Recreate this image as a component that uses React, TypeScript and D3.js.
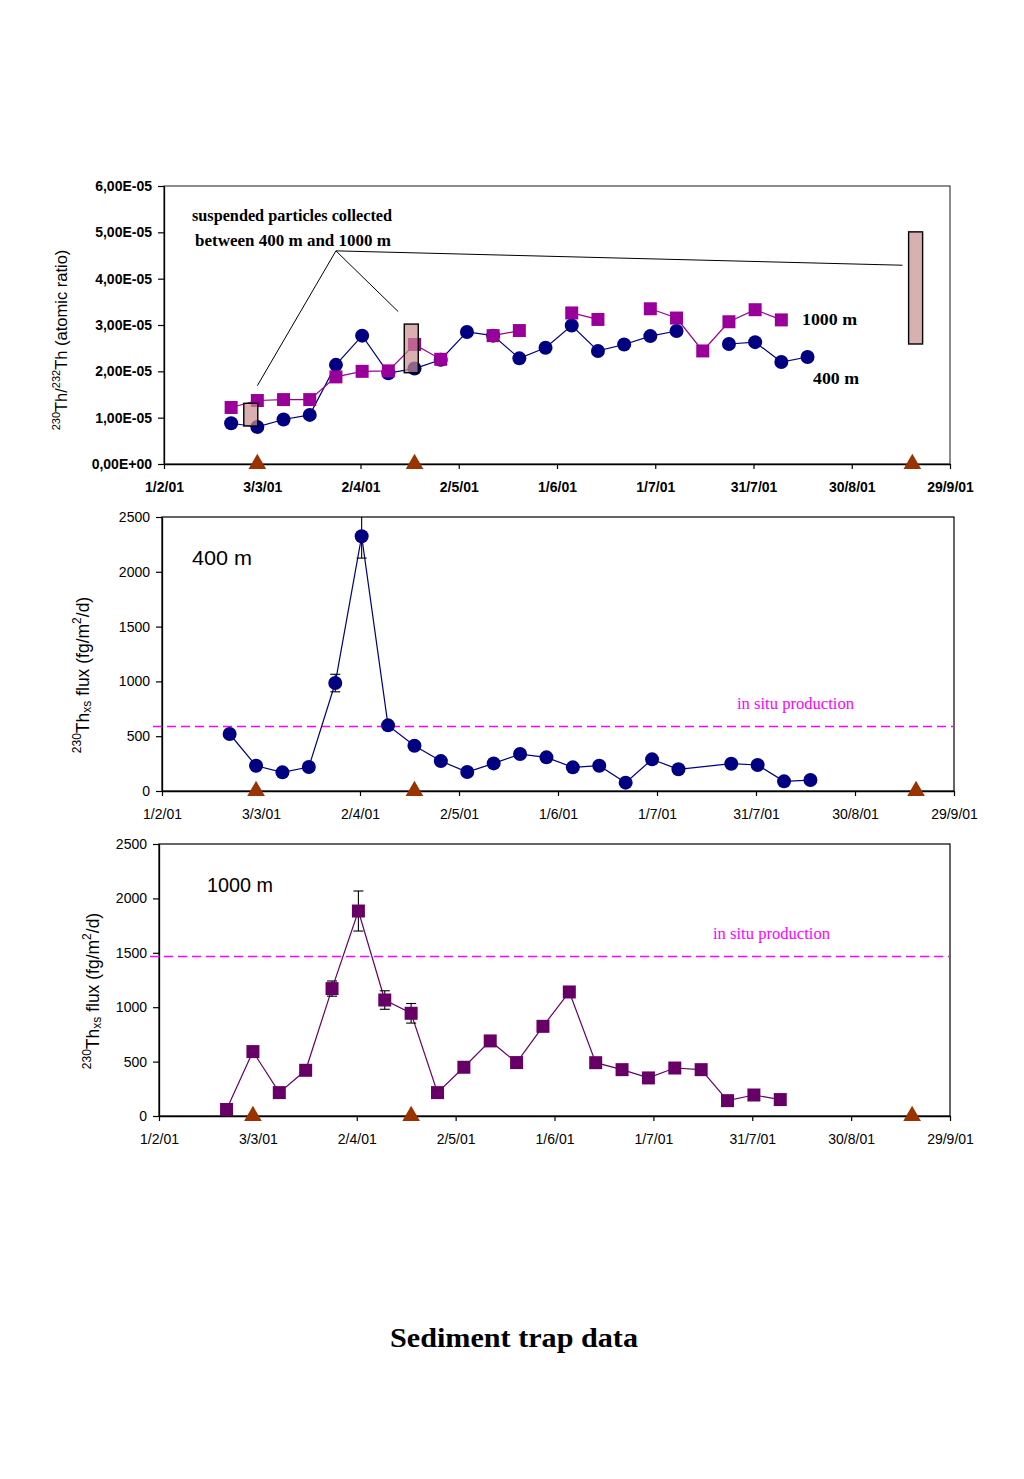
import React, { useEffect, useRef } from 'react';
import * as d3 from 'd3';

// centre date of each 8-day trap cup
const sampleDates = [
    '2001-02-21', '2001-03-01', '2001-03-09', '2001-03-17', '2001-03-25', '2001-04-02',
    '2001-04-10', '2001-04-18', '2001-04-26', '2001-05-04', '2001-05-12', '2001-05-20',
    '2001-05-28', '2001-06-05', '2001-06-13', '2001-06-21', '2001-06-29', '2001-07-07',
    '2001-07-15', '2001-07-23', '2001-07-31', '2001-08-08', '2001-08-16'
];

// 230Th/232Th atomic ratio, in units of 1e-5
const ratio400 = [0.88, 0.80, 0.96, 1.06, 2.14, 2.77, 1.96, 2.06, 2.25, 2.85, 2.77, 2.28,
    2.51, 2.99, 2.44, 2.58, 2.76, 2.87, null, 2.59, 2.63, 2.20, 2.31];
const ratio1000 = [1.22, 1.37, 1.39, 1.39, 1.88, 2.00, 2.01, 2.58, 2.26, null, 2.77, 2.88,
    null, 3.26, 3.12, null, 3.35, 3.15, 2.44, 3.07, 3.33, 3.11, null];

// 230Th xs flux (fg/m2/d)
const flux400 = [520, 230, 170, 219, 985, 2325, 599, 413, 273, 173, 252, 337,
    307, 216, 231, 76, 289, 198, null, 249, 237, 88, 100];
const flux400Err = [0, 0, 0, 0, 80, 200, 0, 0, 0, 0, 0, 0,
    0, 0, 0, 0, 0, 0, 0, 0, 0, 0, 0];
const flux1000 = [60, 592, 215, 420, 1171, 1884, 1066, 944, 215, 448, 690, 491,
    824, 1140, 490, 426, 350, 441, 426, 141, 193, 151, null];
const flux1000Err = [0, 0, 0, 0, 70, 184, 85, 90, 0, 0, 0, 0,
    0, 0, 0, 0, 0, 0, 0, 0, 0, 0, 0];

const production400 = 590;
const production1000 = 1475;

// CTD / pump casts (triangles) and suspended particle ranges (boxes)
const castDates = ['2001-03-01', '2001-04-18', '2001-09-17'];
const particleDates = ['2001-02-27', '2001-04-17', '2001-09-18'];
const particleLow = [0.82, 1.97, 2.59];
const particleHigh = [1.31, 3.02, 5.01];

const dateTicks = ['2001-02-01', '2001-03-03', '2001-04-02', '2001-05-02', '2001-06-01',
    '2001-07-01', '2001-07-31', '2001-08-30', '2001-09-29'];
const dateTickLabels = ['1/2/01', '3/3/01', '2/4/01', '2/5/01', '1/6/01', '1/7/01',
    '31/7/01', '30/8/01', '29/9/01'];
const ratioTicks = [0, 1, 2, 3, 4, 5, 6];
const ratioTickLabels = ['0,00E+00', '1,00E-05', '2,00E-05', '3,00E-05', '4,00E-05',
    '5,00E-05', '6,00E-05'];
const fluxTicks = [0, 500, 1000, 1500, 2000, 2500];

const SANS = '"Liberation Sans", Arial, sans-serif';
const SERIF = '"Liberation Serif", "Times New Roman", serif';
const NAVY = '#000080';
const PURPLE = '#990099';
const DARK_PURPLE = '#660066';
const BROWN = '#993300';

const parseDay = d3.timeParse('%Y-%m-%d');
const noon = (s: string) => d3.timeHour.offset(parseDay(s) as Date, 12);
const day = (s: string) => parseDay(s) as Date;

type Box = { x0: number; x1: number; y0: number; y1: number };

function drawAxes(svg: any, x: any, y: any, box: Box, yTicks: number[], yLabels: (v: number, i: number) => string, bold: boolean, fs: number, frameColor: string) {
    svg.append('rect')
        .attr('x', box.x0).attr('y', box.y0)
        .attr('width', box.x1 - box.x0).attr('height', box.y1 - box.y0)
        .attr('fill', 'none').attr('stroke', frameColor).attr('stroke-width', 1.2);

    const xa = svg.append('g')
        .attr('transform', `translate(0,${box.y1})`)
        .call(d3.axisBottom(x)
            .tickValues(dateTicks.map(day))
            .tickFormat((_: any, i: number) => dateTickLabels[i])
            .tickSize(5).tickSizeOuter(0).tickPadding(13));
    const ya = svg.append('g')
        .attr('transform', `translate(${box.x0},0)`)
        .call(d3.axisLeft(y)
            .tickValues(yTicks)
            .tickFormat((v: any, i: number) => yLabels(v, i))
            .tickSize(6).tickSizeOuter(0).tickPadding(6));
    [xa, ya].forEach(a => {
        a.select('.domain').attr('stroke', '#000').attr('stroke-width', 1.3);
        a.selectAll('.tick line').attr('stroke', '#000').attr('stroke-width', 1.2);
        a.selectAll('text')
            .attr('fill', '#000')
            .style('font-family', SANS)
            .style('font-size', fs + 'px')
            .style('font-weight', bold ? 'bold' : 'normal');
    });
}

function drawCasts(svg: any, x: any, yAxis: number) {
    svg.append('g').selectAll('path')
        .data(castDates)
        .join('path')
        .attr('transform', (d: string) => `translate(${x(noon(d))},${yAxis})`)
        .attr('d', d3.symbol(d3.symbolTriangle, 135)())
        .attr('fill', BROWN);
}

function yTitle(svg: any, cx: number, cy: number, fs: number, parts: [string, string][]) {
    const t = svg.append('text')
        .attr('transform', `translate(${cx},${cy}) rotate(-90)`)
        .attr('text-anchor', 'middle')
        .style('font-family', SANS)
        .style('font-size', fs + 'px')
        .attr('fill', '#000');
    let shift = 0;
    parts.forEach(([txt, kind]) => {
        const target = kind === 'sup' ? -0.45 * fs : kind === 'sub' ? 0.1 * fs : 0;
        t.append('tspan')
            .attr('dy', target - shift)
            .style('font-size', kind === 'n' ? fs + 'px' : Math.round(fs * 0.66) + 'px')
            .text(txt);
        shift = target;
    });
}

function fixedText(svg: any, x: number, y: number, txt: string, len: number, font: string, fs: number, weight: string, color: string) {
    svg.append('text')
        .attr('x', x).attr('y', y)
        .attr('textLength', len).attr('lengthAdjust', 'spacingAndGlyphs')
        .style('font-family', font).style('font-size', fs + 'px').style('font-weight', weight)
        .attr('fill', color)
        .text(txt);
}

export default function App() {
    const svgRef = useRef<SVGSVGElement>(null);

    useEffect(() => {
        const svg = d3.select(svgRef.current);
        svg.selectAll('*').remove();

        const xDomain = [day('2001-02-01'), day('2001-09-29')];
        const dates = sampleDates.map(noon);

        // ---------- top panel: Th ratio ----------
        const b1: Box = { x0: 164, x1: 950, y0: 186, y1: 464 };
        const x1 = d3.scaleTime().domain(xDomain).range([b1.x0, b1.x1]);
        const y1 = d3.scaleLinear().domain([0, 6]).range([b1.y1, b1.y0]);
        drawAxes(svg, x1, y1, b1, ratioTicks, (_v, i) => ratioTickLabels[i], true, 14, '#404040');

        const ratioLine = d3.line<number | null>()
            .defined(d => d != null)
            .x((_, i) => x1(dates[i]))
            .y(d => y1(d as number));

        svg.append('path').attr('d', ratioLine(ratio400))
            .attr('fill', 'none').attr('stroke', NAVY).attr('stroke-width', 1.2);
        svg.append('path').attr('d', ratioLine(ratio1000))
            .attr('fill', 'none').attr('stroke', PURPLE).attr('stroke-width', 1.2);

        svg.append('g').selectAll('circle')
            .data(ratio400.map((v, i) => ({ v, d: dates[i] })).filter(p => p.v != null))
            .join('circle')
            .attr('cx', p => x1(p.d)).attr('cy', p => y1(p.v as number))
            .attr('r', 7).attr('fill', NAVY);
        svg.append('g').selectAll('rect')
            .data(ratio1000.map((v, i) => ({ v, d: dates[i] })).filter(p => p.v != null))
            .join('rect')
            .attr('x', p => x1(p.d) - 6.5).attr('y', p => y1(p.v as number) - 6.5)
            .attr('width', 13).attr('height', 13).attr('fill', PURPLE);

        // suspended particle boxes
        svg.append('g').selectAll('rect')
            .data(particleDates.map((d, i) => ({ d: noon(d), lo: particleLow[i], hi: particleHigh[i] })))
            .join('rect')
            .attr('x', p => x1(p.d) - 7).attr('width', 14)
            .attr('y', p => y1(p.hi)).attr('height', p => y1(p.lo) - y1(p.hi))
            .attr('fill', '#c98f8f').attr('fill-opacity', 0.7)
            .attr('stroke', '#000').attr('stroke-width', 1.4);

        // leader lines from the annotation to the boxes
        const origin: [number, number] = [x1(noon('2001-03-25')), y1(4.6)];
        const ends: [string, number][] = [['2001-03-01', 1.69], ['2001-04-13', 3.29], ['2001-09-14', 4.29]];
        ends.forEach(([d, v]) => {
            svg.append('line')
                .attr('x1', origin[0]).attr('y1', origin[1])
                .attr('x2', x1(noon(d))).attr('y2', y1(v))
                .attr('stroke', '#000').attr('stroke-width', 1);
        });
        fixedText(svg, 192, 221, 'suspended particles collected', 200, SERIF, 16, 'bold', '#000');
        fixedText(svg, 195, 246, 'between 400 m and 1000 m', 196, SERIF, 16, 'bold', '#000');
        fixedText(svg, 802, 325, '1000 m', 55, SERIF, 16, 'bold', '#000');
        fixedText(svg, 813, 384, '400 m', 46, SERIF, 16, 'bold', '#000');

        drawCasts(svg, x1, b1.y1);
        yTitle(svg, 67, 340, 16.5, [['230', 'sup'], ['Th/', 'n'], ['232', 'sup'], ['Th (atomic ratio)', 'n']]);

        // ---------- flux panels ----------
        const fluxPanel = (b: Box, values: (number | null)[], errs: number[], prod: number,
            color: string, marker: 'circle' | 'square', label: string, labelX: number, labelLen: number,
            prodX: number, titleX: number, titleY: number) => {
            const x = d3.scaleTime().domain(xDomain).range([b.x0, b.x1]);
            const y = d3.scaleLinear().domain([0, 2500]).range([b.y1, b.y0]);
            drawAxes(svg, x, y, b, fluxTicks, v => String(v), false, 14, '#000');

            // in situ production
            const yp = Math.round(y(prod)) + 0.5;
            svg.append('line')
                .attr('x1', b.x0 - 9).attr('x2', b.x1)
                .attr('y1', yp).attr('y2', yp)
                .attr('stroke', '#ff00ff').attr('stroke-width', 1.4)
                .attr('stroke-dasharray', '9,5');
            fixedText(svg, prodX, yp - 17.5, 'in situ production', 117, SERIF, 16, 'normal', '#ff00ff');

            const pts = values.map((v, i) => ({ v, e: errs[i], d: dates[i] })).filter(p => p.v != null);
            const line = d3.line<any>().x(p => x(p.d)).y(p => y(p.v));
            svg.append('path').attr('d', line(pts))
                .attr('fill', 'none').attr('stroke', color).attr('stroke-width', 1.2);

            // error bars
            const eb = svg.append('g').attr('stroke', '#000').attr('stroke-width', 1.1);
            pts.filter(p => p.e > 0).forEach(p => {
                const cx = x(p.d);
                const top = Math.min(p.v + p.e, 2500);
                eb.append('line').attr('x1', cx).attr('x2', cx).attr('y1', y(top)).attr('y2', y(p.v - p.e));
                if (p.v + p.e <= 2500) eb.append('line').attr('x1', cx - 5).attr('x2', cx + 5).attr('y1', y(p.v + p.e)).attr('y2', y(p.v + p.e));
                eb.append('line').attr('x1', cx - 5).attr('x2', cx + 5).attr('y1', y(p.v - p.e)).attr('y2', y(p.v - p.e));
            });

            if (marker === 'circle') {
                svg.append('g').selectAll('circle').data(pts).join('circle')
                    .attr('cx', p => x(p.d)).attr('cy', p => y(p.v)).attr('r', 7).attr('fill', color);
            } else {
                svg.append('g').selectAll('rect').data(pts).join('rect')
                    .attr('x', p => x(p.d) - 6.5).attr('y', p => y(p.v) - 6.5)
                    .attr('width', 13).attr('height', 13).attr('fill', color);
            }

            drawCasts(svg, x, b.y1);
            svg.append('text')
                .attr('x', labelX).attr('y', b.y0 + 48)
                .attr('textLength', labelLen).attr('lengthAdjust', 'spacingAndGlyphs')
                .style('font-family', SANS).style('font-size', '21px')
                .attr('fill', '#000').text(label);
            yTitle(svg, titleX, titleY, 17.5, [['230', 'sup'], ['Th', 'n'], ['xs', 'sub'], [' flux (fg/m', 'n'], ['2', 'sup'], ['/d)', 'n']]);
        };

        fluxPanel({ x0: 162, x1: 954, y0: 517, y1: 791 }, flux400, flux400Err, production400,
            NAVY, 'circle', '400 m', 192, 60, 737, 89, 675);
        fluxPanel({ x0: 159, x1: 950, y0: 844, y1: 1116 }, flux1000, flux1000Err, production1000,
            DARK_PURPLE, 'square', '1000 m', 207, 66, 713, 99, 991);

        svg.append('text')
            .attr('x', 514).attr('y', 1347)
            .attr('text-anchor', 'middle')
            .attr('textLength', 248).attr('lengthAdjust', 'spacingAndGlyphs')
            .style('font-family', SERIF).style('font-size', '27px').style('font-weight', 'bold')
            .attr('fill', '#000')
            .text('Sediment trap data');
    }, []);

    return (
        <div style={{ position: 'absolute', left: 0, top: 0 }}>
            <svg ref={svgRef} width={1024} height={1479} style={{ display: 'block', background: '#fff' }} />
        </div>
    );
}
